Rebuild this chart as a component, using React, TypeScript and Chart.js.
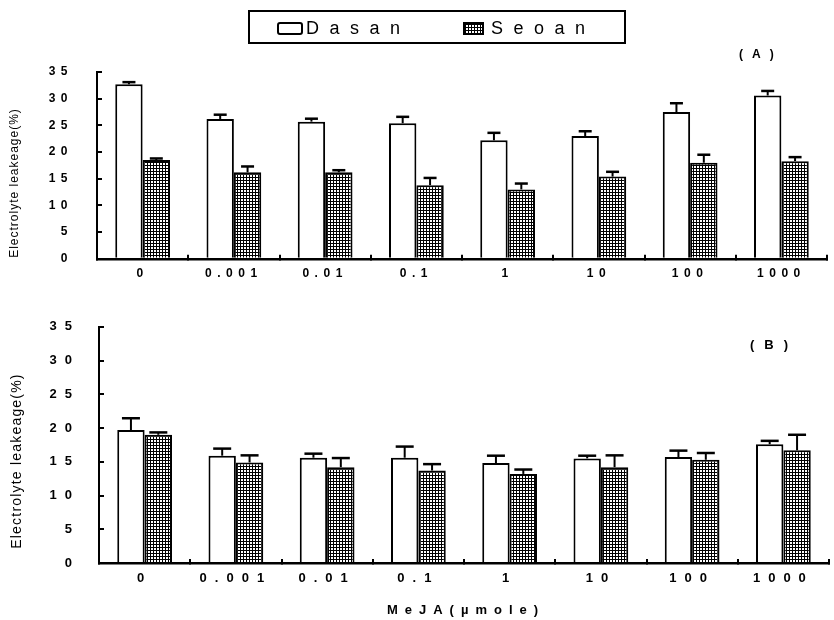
import { useEffect, useRef } from 'react';
import { Chart, registerables } from 'chart.js';

Chart.register(...registerables);

// ---------- data ----------
const categories = ['0', '0.001', '0.01', '0.1', '1', '10', '100', '1000'];
const seriesNames = ['Dasan', 'Seoan'];
const yMin = 0;
const yMax = 35;
const yStep = 5;

// Panel (A)
const dasanA = [32.7, 26.2, 25.7, 25.4, 22.2, 23.0, 27.5, 30.6];
const dasanAErr = [0.4, 0.8, 0.55, 1.2, 1.4, 0.9, 1.65, 0.85];
const seoanA = [18.5, 16.2, 16.2, 13.8, 13.0, 15.4, 18.0, 18.3];
const seoanAErr = [0.3, 1.1, 0.4, 1.35, 1.1, 0.9, 1.5, 0.75];

// Panel (B)
const dasanB = [19.7, 15.9, 15.6, 15.6, 14.8, 15.5, 15.7, 17.6];
const dasanBErr = [1.75, 1.05, 0.6, 1.65, 1.1, 0.4, 0.95, 0.5];
const seoanB = [19.0, 14.9, 14.2, 13.7, 13.2, 14.2, 15.3, 16.7];
const seoanBErr = [0.35, 1.05, 1.35, 0.95, 0.65, 1.75, 1.0, 2.3];

const yTitle = 'Electrolyte leakeage(%)';
const xTitle = 'MeJA(\u00b5mole)';

const FONT = 'Arial, "Liberation Sans", sans-serif';

function makeGridPattern(ctx: CanvasRenderingContext2D): CanvasPattern | string {
  const tile = document.createElement('canvas');
  tile.width = 3;
  tile.height = 3;
  const t = tile.getContext('2d')!;
  t.fillStyle = '#ffffff';
  t.fillRect(0, 0, 3, 3);
  t.fillStyle = '#000000';
  t.fillRect(0, 0, 3, 1);
  t.fillRect(0, 0, 1, 3);
  return ctx.createPattern(tile, 'repeat') || '#888';
}

type PanelSpec = {
  tag: string;
  dasan: number[];
  dasanErr: number[];
  seoan: number[];
  seoanErr: number[];
  padTop: number;
  padRight: number;
  yWidth: number;
  xHeight: number;
  spacing: number;
  yFont: number;
  xFont: number;
  yPad: number;
  xPad: number;
  cap: number;
  yTitleX: number;
  yTitleY: number;
  yTitleFont: number;
  yTitleSpacing: number;
  tagX: number;
  tagY: number;
  tagFont: number;
  tagSpacing: number;
  legend: boolean;
  xTitle: boolean;
};

function createPanel(canvas: HTMLCanvasElement, spec: PanelSpec): Chart {
  const ctx0 = canvas.getContext('2d')!;
  const pattern = makeGridPattern(ctx0);
  const errs = [spec.dasanErr, spec.seoanErr];

  const spacingPlugin = {
    id: 'spacing',
    beforeDraw(chart: any) {
      (chart.ctx as any).letterSpacing = spec.spacing + 'px';
    },
  };

  const errorBars = {
    id: 'errorBars',
    afterDatasetsDraw(chart: any) {
      const ctx: CanvasRenderingContext2D = chart.ctx;
      const yScale = chart.scales.y;
      chart.data.datasets.forEach((ds: any, i: number) => {
        const meta = chart.getDatasetMeta(i);
        meta.data.forEach((bar: any, j: number) => {
          const v = ds.data[j] as number;
          const top = yScale.getPixelForValue(v + errs[i][j]);
          ctx.save();
          ctx.strokeStyle = '#000';
          ctx.lineWidth = 2;
          ctx.beginPath();
          ctx.moveTo(bar.x, bar.y);
          ctx.lineTo(bar.x, top);
          ctx.stroke();
          ctx.lineWidth = 2.5;
          ctx.beginPath();
          ctx.moveTo(bar.x - spec.cap / 2, top);
          ctx.lineTo(bar.x + spec.cap / 2, top);
          ctx.stroke();
          ctx.restore();
        });
      });
    },
  };

  const annotations = {
    id: 'annotations',
    afterDraw(chart: any) {
      const ctx: CanvasRenderingContext2D = chart.ctx;
      ctx.save();
      ctx.fillStyle = '#000';
      ctx.strokeStyle = '#000';

      // y-axis title
      ctx.save();
      (ctx as any).letterSpacing = spec.yTitleSpacing + 'px';
      ctx.translate(spec.yTitleX, spec.yTitleY);
      ctx.rotate(-Math.PI / 2);
      ctx.font = `${spec.yTitleFont}px ${FONT}`;
      ctx.textAlign = 'center';
      ctx.textBaseline = 'middle';
      ctx.fillText(yTitle, 0, 0);
      ctx.restore();

      // panel tag (A)/(B)
      ctx.save();
      (ctx as any).letterSpacing = spec.tagSpacing + 'px';
      ctx.font = `bold ${spec.tagFont}px ${FONT}`;
      ctx.textAlign = 'left';
      ctx.textBaseline = 'middle';
      ctx.fillText(`(${spec.tag})`, spec.tagX, spec.tagY);
      ctx.restore();

      if (spec.xTitle) {
        const area = chart.chartArea;
        ctx.save();
        (ctx as any).letterSpacing = '7px';
        ctx.font = `bold 13px ${FONT}`;
        ctx.textAlign = 'center';
        ctx.textBaseline = 'middle';
        ctx.fillText(xTitle, (area.left + area.right) / 2 + 2, 315);
        ctx.restore();
      }

      if (spec.legend) {
        const ds = chart.data.datasets;
        ctx.save();
        (ctx as any).letterSpacing = '0px';
        ctx.lineWidth = 2;
        ctx.strokeRect(249, 11, 376, 32);
        // Dasan swatch
        ctx.fillStyle = ds[0].backgroundColor;
        ctx.beginPath();
        ctx.roundRect(278, 23, 24, 11, 2);
        ctx.fill();
        ctx.stroke();
        // Seoan swatch
        ctx.fillStyle = ds[1].backgroundColor;
        ctx.beginPath();
        ctx.rect(464, 23, 19, 11);
        ctx.fill();
        ctx.stroke();
        ctx.fillStyle = '#000';
        (ctx as any).letterSpacing = '10.5px';
        ctx.font = `18px ${FONT}`;
        ctx.textAlign = 'left';
        ctx.textBaseline = 'middle';
        ctx.fillText(ds[0].label, 306, 29);
        ctx.fillText(ds[1].label, 491, 29);
        ctx.restore();
      }
      ctx.restore();
    },
  };

  return new Chart(canvas, {
    type: 'bar',
    data: {
      labels: categories,
      datasets: [
        {
          label: seriesNames[0],
          data: spec.dasan,
          backgroundColor: '#ffffff',
          borderColor: '#000000',
          borderWidth: 2,
          categoryPercentage: 0.6,
          barPercentage: 1.0,
        },
        {
          label: seriesNames[1],
          data: spec.seoan,
          backgroundColor: pattern as any,
          borderColor: '#000000',
          borderWidth: 2,
          categoryPercentage: 0.6,
          barPercentage: 1.0,
        },
      ],
    },
    options: {
      responsive: false,
      animation: false,
      devicePixelRatio: 1,
      layout: { padding: { top: spec.padTop, right: spec.padRight, bottom: 0, left: 0 } },
      plugins: {
        legend: { display: false },
        tooltip: { enabled: false },
      },
      scales: {
        x: {
          offset: true,
          grid: {
            offset: true,
            drawOnChartArea: false,
            color: '#000',
            lineWidth: 2,
            tickLength: -4,
          },
          border: { display: true, color: '#000', width: 2.5 },
          ticks: {
            autoSkip: false,
            maxRotation: 0,
            minRotation: 0,
            color: '#000',
            padding: spec.xPad,
            font: { family: FONT, size: spec.xFont, weight: 'bold' },
          },
          afterFit(scale: any) {
            scale.height = spec.xHeight;
          },
        },
        y: {
          min: yMin,
          max: yMax,
          grid: {
            drawOnChartArea: false,
            color: '#000',
            lineWidth: 2,
            tickLength: -5,
          },
          border: { display: true, color: '#000', width: 2 },
          ticks: {
            stepSize: yStep,
            color: '#000',
            padding: spec.yPad,
            font: { family: FONT, size: spec.yFont, weight: 'bold' },
          },
          afterFit(scale: any) {
            scale.width = spec.yWidth;
          },
        },
      },
    } as any,
    plugins: [spacingPlugin, errorBars, annotations],
  });
}

export default function App() {
  const refA = useRef<HTMLCanvasElement>(null);
  const refB = useRef<HTMLCanvasElement>(null);

  useEffect(() => {
    const charts: Chart[] = [];
    charts.push(
      createPanel(refA.current!, {
        tag: 'A',
        dasan: dasanA,
        dasanErr: dasanAErr,
        seoan: seoanA,
        seoanErr: seoanAErr,
        padTop: 72,
        padRight: 7,
        yWidth: 97,
        xHeight: 34,
        spacing: 5.5,
        yFont: 12,
        xFont: 12,
        yPad: 29,
        xPad: 12,
        cap: 13,
        yTitleX: 15,
        yTitleY: 183,
        yTitleFont: 12,
        yTitleSpacing: 1,
        tagX: 739,
        tagY: 55,
        tagFont: 12,
        tagSpacing: 9,
        legend: true,
        xTitle: false,
      })
    );
    charts.push(
      createPanel(refB.current!, {
        tag: 'B',
        dasan: dasanB,
        dasanErr: dasanBErr,
        seoan: seoanB,
        seoanErr: seoanBErr,
        padTop: 23,
        padRight: 5,
        yWidth: 99,
        xHeight: 57,
        spacing: 8,
        yFont: 13,
        xFont: 13,
        yPad: 24,
        xPad: 11.5,
        cap: 18,
        yTitleX: 17.5,
        yTitleY: 166,
        yTitleFont: 14,
        yTitleSpacing: 1.2,
        tagX: 750,
        tagY: 50,
        tagFont: 13,
        tagSpacing: 10,
        legend: false,
        xTitle: true,
      })
    );
    return () => charts.forEach((c) => c.destroy());
  }, []);

  return (
    <div style={{ position: 'absolute', left: 0, top: 0, width: 834, height: 620, background: '#ffffff' }}>
      <canvas ref={refA} width={834} height={295} style={{ position: 'absolute', left: 0, top: 0, width: 834, height: 295 }} />
      <canvas ref={refB} width={834} height={325} style={{ position: 'absolute', left: 0, top: 295, width: 834, height: 325 }} />
    </div>
  );
}
